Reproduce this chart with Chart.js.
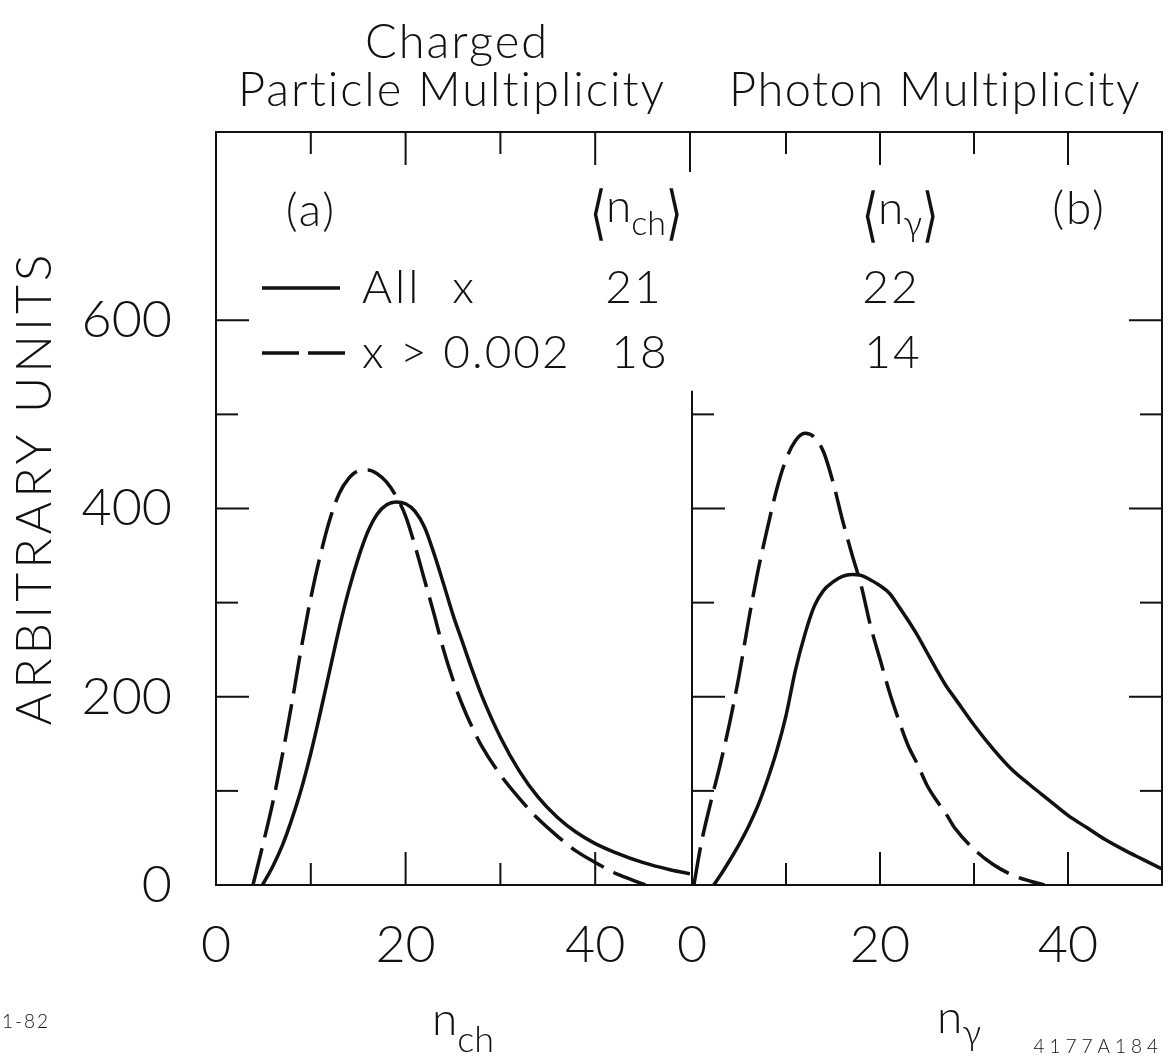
<!DOCTYPE html>
<html>
<head>
<meta charset="utf-8">
<script src="https://cdn.jsdelivr.net/npm/chart.js@4.4.1/dist/chart.umd.min.js"></script>
<style>
  html, body { margin: 0; padding: 0; background: #fff; }
  #wrap { position: relative; width: 1168px; height: 1059px; overflow: hidden; }
  canvas { position: absolute; top: 0; }
  #left { left: 0; }
  #right { left: 642px; }
</style>
</head>
<body>
<div id="wrap">
  <canvas id="left" width="700" height="1059"></canvas>
  <canvas id="right" width="526" height="1059"></canvas>
</div>
<script>
// (a) charged particle multiplicity
var chAllN = [4.9, 6, 7, 8, 9, 10, 11, 12, 13, 14, 15, 16, 17, 18, 19, 20, 21, 22, 23, 24, 25, 26, 27, 28, 30, 32, 34, 36, 38, 40, 42, 45, 48, 50];
var chAllY = [0, 20, 42, 70, 102, 140, 183, 228, 273, 313, 347, 375, 394, 404, 407, 405, 397, 380, 352, 320, 287, 258, 229, 202, 157, 121, 93, 72, 56, 44, 35, 24, 16, 12];
var chCutN = [3.9, 5, 6, 7, 8, 9, 10, 11, 12, 13, 14, 15, 16, 17, 18, 19, 20, 21, 22, 23, 24, 25, 26, 27, 28, 30, 32, 34, 36, 38, 40, 42, 44, 45.3];
var chCutY = [0, 45, 88, 138, 193, 252, 305, 350, 388, 416, 432, 440, 441, 437, 428, 413, 392, 360, 324, 288, 250, 218, 191, 168, 148, 117, 92, 70, 52, 36, 24, 13, 5, 0];

// (b) photon multiplicity
var phAllN = [2.3, 3, 4, 5, 6, 7, 8, 9, 10, 11, 12, 13, 14, 15, 16, 17, 18, 19, 20, 21, 22, 23, 24, 25, 26, 27, 28, 30, 32, 34, 36, 38, 40, 42, 44, 46, 48, 50];
var phAllY = [0, 10, 26, 43, 62, 84, 111, 142, 180, 228, 266, 296, 313, 322, 328, 330, 329, 324, 318, 310, 296, 281, 265, 247, 229, 212, 198, 170, 145, 123, 106, 90, 74, 61, 48, 37, 27, 17];
var phCutN = [0.2, 1, 2, 3, 4, 5, 6, 7, 8, 9, 10, 11, 12, 13, 14, 15, 16, 17, 18, 19, 20, 21, 22, 23, 24, 25, 26, 27, 28, 30, 32, 34, 36, 37.5];
var phCutY = [0, 45, 88, 128, 172, 222, 280, 333, 378, 420, 452, 472, 480, 476, 460, 428, 388, 352, 318, 275, 240, 205, 175, 148, 128, 106, 90, 76, 60, 38, 22, 11, 4, 0];

var xTickLabels = [0, 20, 40];
var yTickLabels = [0, 200, 400, 600];
var xTickMarks = [10, 20, 30, 40];
var yTickMarks = [100, 200, 300, 400, 500, 600];

var INK = '#111';
var FONT = "Lato, 'Liberation Sans', 'DejaVu Sans', sans-serif";
var BRACKET_FONT = "'DejaVu Sans', sans-serif";
var WEIGHT = '300';

function pts(ns, vs) {
    return ns.map(function (n, i) { return { x: n, y: vs[i] }; });
}

function lineSet(ns, vs, dashed) {
    return {
        data: pts(ns, vs),
        borderColor: INK,
        borderWidth: 3.5,
        borderDash: dashed ? [38, 11] : [],
        pointRadius: 0,
        fill: false,
        cubicInterpolationMode: 'monotone'
    };
}

function seg(ctx, x1, y1, x2, y2) {
    ctx.beginPath();
    ctx.moveTo(x1, y1);
    ctx.lineTo(x2, y2);
    ctx.stroke();
}

// parts: [text, size, dy, scaleY]; scaled parts are the tall angle brackets
function partFont(p) {
    return p[3] ? '200 ' + p[1] + 'px ' + BRACKET_FONT : WEIGHT + ' ' + p[1] + 'px ' + FONT;
}

function drawParts(ctx, parts, x, y, align) {
    var w = 0;
    parts.forEach(function (p) {
        ctx.font = partFont(p);
        w += ctx.measureText(p[0]).width;
    });
    var cx = align === 'center' ? x - w / 2 : (align === 'right' ? x - w : x);
    parts.forEach(function (p) {
        ctx.font = partFont(p);
        if (p[3]) {
            ctx.save();
            ctx.translate(cx, y + (p[2] || 0));
            ctx.scale(1, p[3]);
            ctx.fillText(p[0], 0, 0);
            ctx.restore();
        } else {
            ctx.fillText(p[0], cx, y + (p[2] || 0));
        }
        cx += ctx.measureText(p[0]).width;
    });
}

// frame, inward ticks and lettering
var framePlugin = {
    id: 'frame',
    afterDatasetsDraw: function (chart, args, o) {
        var ctx = chart.ctx, a = chart.chartArea;
        var xs = chart.scales.x, ys = chart.scales.y;
        ctx.save();
        ctx.strokeStyle = INK;
        ctx.fillStyle = INK;
        ctx.lineWidth = 2;
        ctx.setLineDash([]);

        seg(ctx, a.left - 1, a.top, a.right + 1, a.top);
        seg(ctx, a.left - 1, a.bottom, a.right + 1, a.bottom);
        var leftTop = ys.getPixelForValue(o.leftEdge);
        seg(ctx, a.left, leftTop, a.left, a.bottom);
        if (o.rightEdge) seg(ctx, a.right, a.top, a.right, a.bottom);

        xTickMarks.forEach(function (v) {
            var px = xs.getPixelForValue(v);
            var len = v % 20 === 0 ? 33 : 22;
            seg(ctx, px, a.top, px, a.top + len);
            seg(ctx, px, a.bottom, px, a.bottom - len);
        });
        if (o.cornerTick) seg(ctx, a.right, a.top, a.right, a.top + 40);

        yTickMarks.forEach(function (v) {
            var py = ys.getPixelForValue(v);
            var len = v % 200 === 0 ? 33 : 22;
            if (v <= o.leftEdge) seg(ctx, a.left, py, a.left + len, py);
            if (o.rightEdge) seg(ctx, a.right, py, a.right - len, py);
        });

        (o.samples || []).forEach(function (s) {
            ctx.lineWidth = 3.5;
            ctx.setLineDash(s.dash);
            seg(ctx, s.x1 - o.offset, s.y, s.x2 - o.offset, s.y);
        });
        ctx.setLineDash([]);

        ctx.textAlign = 'left';
        ctx.textBaseline = 'alphabetic';
        (o.texts || []).forEach(function (t) {
            ctx.letterSpacing = t.spacing || '0px';
            if (t.rotate) {
                ctx.save();
                ctx.translate(t.x - o.offset, t.y);
                ctx.rotate(-Math.PI / 2);
                drawParts(ctx, t.parts, 0, 0, 'center');
                ctx.restore();
            } else {
                drawParts(ctx, t.parts, t.x - o.offset, t.y, t.align);
            }
        });
        ctx.letterSpacing = '0px';
        ctx.restore();
    }
};

function makeOptions(isLeft, frame) {
    var tickFont = { family: FONT, size: 52, weight: WEIGHT };
    return {
        responsive: false,
        animation: false,
        events: [],
        layout: { padding: { top: 132, bottom: 0, left: isLeft ? 0 : 50, right: isLeft ? 10 : 6 } },
        scales: {
            x: {
                type: 'linear', min: 0, max: 50,
                grid: { display: false },
                border: { display: false },
                afterBuildTicks: function (s) { s.ticks = xTickLabels.map(function (v) { return { value: v }; }); },
                afterFit: function (s) { s.height = 174; },
                ticks: { font: tickFont, color: INK, padding: 21, maxRotation: 0, autoSkip: false }
            },
            y: {
                type: 'linear', min: 0, max: 800,
                display: isLeft,
                grid: { display: false },
                border: { display: false },
                afterBuildTicks: function (s) { s.ticks = yTickLabels.map(function (v) { return { value: v }; }); },
                afterFit: function (s) { s.width = isLeft ? 216 : 0; },
                ticks: { font: tickFont, color: INK, padding: 36 }
            }
        },
        plugins: {
            legend: { display: false },
            tooltip: { enabled: false },
            frame: frame
        }
    };
}

new Chart(document.getElementById('left').getContext('2d'), {
    type: 'line',
    data: { datasets: [lineSet(chAllN, chAllY, false), lineSet(chCutN, chCutY, true)] },
    plugins: [framePlugin],
    options: makeOptions(true, {
        offset: 0, leftEdge: 800, rightEdge: false, cornerTick: true,
        samples: [
            { x1: 262, x2: 340, y: 288, dash: [] },
            { x1: 262, x2: 345, y: 353, dash: [37, 9] }
        ],
        texts: [
            { parts: [['Charged', 47]], x: 457, y: 58, align: 'center', spacing: '2px' },
            { parts: [['Particle Multiplicity', 47]], x: 452, y: 106, align: 'center', spacing: '2px' },
            { parts: [['(a)', 46]], x: 311, y: 226, align: 'center', spacing: '2px' },
            { parts: [['\u27e8', 42, 11, 1.4], ['n', 46], ['ch', 34, 13], ['\u27e9', 42, 11, 1.4]], x: 636, y: 222, align: 'center' },
            { parts: [['All  x', 46]], x: 362, y: 303, align: 'left', spacing: '3px' },
            { parts: [['21', 46]], x: 634, y: 303, align: 'center', spacing: '2px' },
            { parts: [['x > 0.002', 46]], x: 362, y: 368, align: 'left', spacing: '2px' },
            { parts: [['18', 46]], x: 640, y: 368, align: 'center', spacing: '2px' },
            { parts: [['ARBITRARY UNITS', 50]], x: 51, y: 488, rotate: true, spacing: '4px' },
            { parts: [['n', 46], ['ch', 36, 17]], x: 432, y: 1035, align: 'left' },
            { parts: [['1-82', 19]], x: 2, y: 1028, align: 'left', spacing: '2px' }
        ]
    })
});

new Chart(document.getElementById('right').getContext('2d'), {
    type: 'line',
    data: { datasets: [lineSet(phAllN, phAllY, false), lineSet(phCutN, phCutY, true)] },
    plugins: [framePlugin],
    options: makeOptions(false, {
        offset: 642, leftEdge: 525, rightEdge: true, cornerTick: false,
        texts: [
            { parts: [['Photon Multiplicity', 47]], x: 935, y: 106, align: 'center', spacing: '1.5px' },
            { parts: [['\u27e8', 42, 11, 1.4], ['n', 46], ['\u03b3', 36, 12], ['\u27e9', 42, 11, 1.4]], x: 900, y: 224, align: 'center' },
            { parts: [['(b)', 46]], x: 1079, y: 224, align: 'center', spacing: '2px' },
            { parts: [['22', 46]], x: 891, y: 303, align: 'center', spacing: '2px' },
            { parts: [['14', 46]], x: 893, y: 368, align: 'center', spacing: '2px' },
            { parts: [['n', 46], ['\u03b3', 36, 12]], x: 937, y: 1033, align: 'left' },
            { parts: [['4177A184', 19]], x: 1163, y: 1053, align: 'right', spacing: '5px' }
        ]
    })
});
</script>
</body>
</html>
